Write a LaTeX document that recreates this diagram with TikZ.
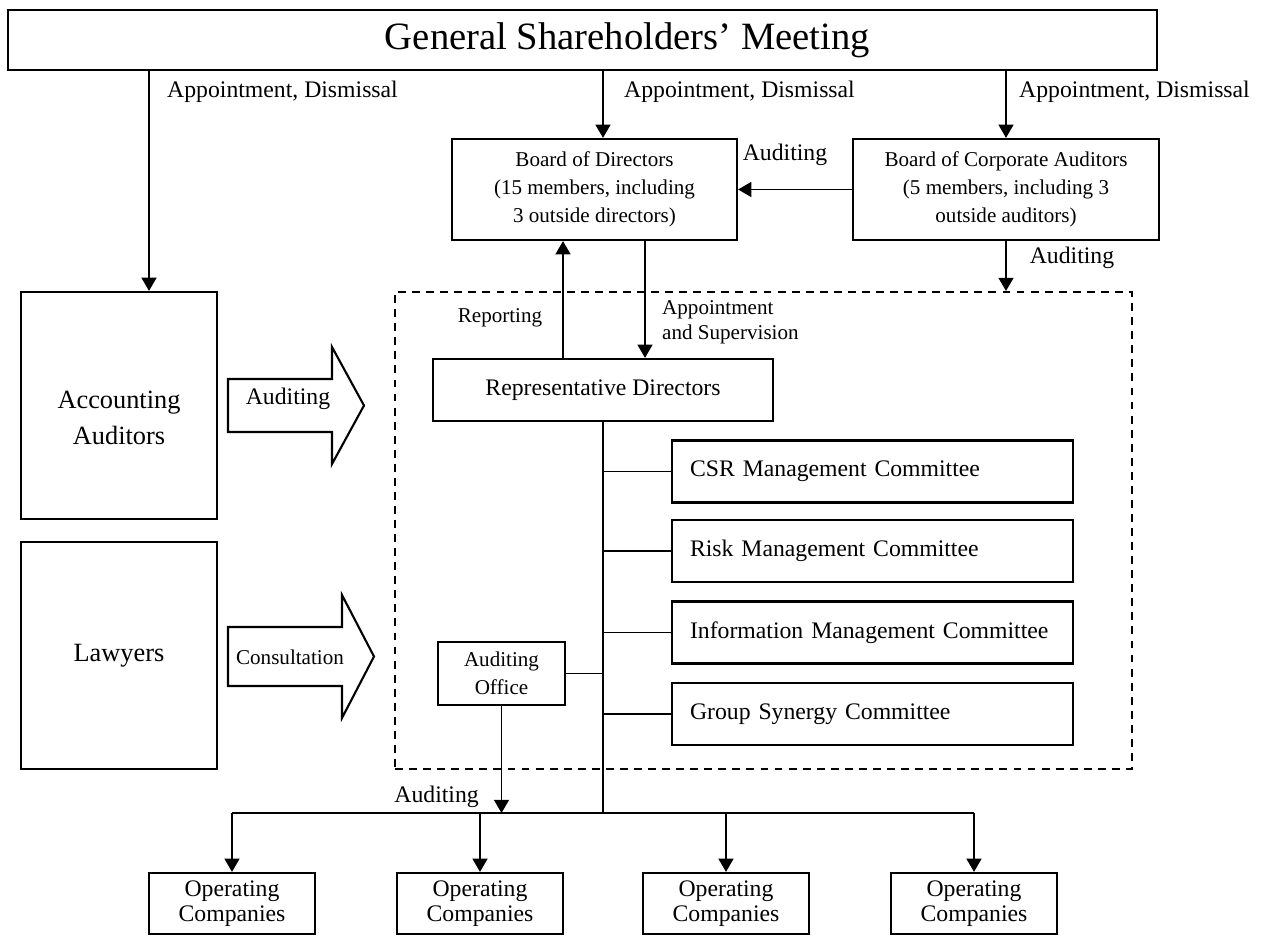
\documentclass[tikz,border=0pt]{standalone}
\usepackage{fontspec}
\setmainfont{Liberation Serif}
\usetikzlibrary{arrows.meta,positioning,calc}
\tikzset{
  every node/.style={font=\fontsize{13.5}{16}\selectfont},
  box/.style={draw, line width=1.3pt, align=center, inner sep=0pt},
  big/.style={font=\fontsize{22}{26}\selectfont},
  mid/.style={font=\fontsize{15}{20.5}\selectfont, align=center},
  sml/.style={font=\fontsize{12}{16}\selectfont},
  cmt/.style={box, minimum height=1.24cm, text width=7.3cm, align=left, inner xsep=0.36cm},
  opc/.style={box, minimum width=3.32cm, minimum height=1.22cm, font=\fontsize{13.5}{14.2}\selectfont},
  ar/.style={-{Triangle[length=7.5pt,width=8.5pt]}, line width=0.9pt},
  ln/.style={line width=0.9pt},
  fat/.style={line width=1.2pt, line join=miter},
  grp/.style={draw, line width=1.2pt, dash pattern=on 4.5pt off 3.5pt},
}

\begin{document}
\begin{tikzpicture}[x=0.02cm, y=-0.02cm]
\useasboundingbox (0,0) rectangle (1267,936);

% ============ boxes =========================================================
\node[grp, minimum width=14.74cm, minimum height=9.54cm] (mgmt) at (763.5,530.5) {};
\node[box, minimum width=22.98cm, minimum height=1.2cm,
      label={[big, xshift=0.9cm]center:General Shareholders' Meeting}] (gsm) at (582.5,40) {};
\node[box, sml, minimum width=5.7cm, minimum height=2.02cm] (bod) at (594.5,189.5)
  {Board of Directors\\(15 members, including\\3 outside directors)};
\node[box, sml, minimum width=6.12cm, minimum height=2.02cm] (bca) at (1006,189.5)
  {Board of Corporate Auditors\\(5 members, including 3\\outside auditors)};
\node[box, minimum width=3.92cm, minimum height=4.54cm,
      label={[mid, yshift=-0.24cm]center:Accounting\\Auditors}] (acc) at (119,405.5) {};
\node[box, mid, minimum width=3.92cm, minimum height=4.54cm] (law) at (119,655.5) {Lawyers};
\node[box, minimum width=6.8cm, minimum height=1.24cm] (rep) at (603,390) {Representative Directors};
\node[box, sml, minimum width=2.54cm, minimum height=1.26cm] (aoff) at (501.5,673.5) {Auditing\\Office};

% committees on the trunk
\foreach \n/\y/\t in {csr/471.5/CSR Management, risk/551/Risk Management,
                      info/632.5/Information Management, syn/714/Group Synergy}{
  \node[cmt] (\n) at (872.5,\y) {\t{} Committee};
  \draw[ln] (\n.west) -- (\n.west -| rep.south);
}

% ============ top arrows ====================================================
\coordinate (accin) at ($(acc.north)+(30,0)$);
\draw[ar] (gsm.south -| accin) -- (accin);
\draw[ar] (gsm.south -| rep.north) -- (bod.north -| rep.north);
\draw[ar] (gsm.south -| bca.north) -- (bca.north);
\node[anchor=west] (ad1) at (161,92) {Appointment, Dismissal};
\node[anchor=west] (ad2) at (618,92) {Appointment, Dismissal};
\node[anchor=west] (ad3) at (1013,92) {Appointment, Dismissal};

\draw[ar] (bca.west) -- (bod.east);
\node (aud1) at (785,155) {Auditing};
\draw[ar] (bca.south) -- (bca.south |- mgmt.north);
\node (aud2) at (1072,258) {Auditing};

\draw[ar] ([xshift=-0.8cm]rep.north) -- ([xshift=-0.8cm]rep.north |- bod.south);
\draw[ar] ([xshift=0.84cm]rep.north |- bod.south) -- ([xshift=0.84cm]rep.north);
\node[sml] (rptl) at (500,318) {Reporting};
\node[anchor=west, align=left, font=\fontsize{12}{14.2}\selectfont] (apsl) at (656,322.5)
  {Appointment\\and Supervision};

% ============ block arrows ==================================================
\draw[fat] (228,379) -- (332,379) -- (332,347) -- (364,405.5) -- (332,464) -- (332,432) -- (228,432) -- cycle;
\node (bal1) at (288,399) {Auditing};
\draw[fat] (228,627) -- (342,627) -- (342,595) -- (374,656.5) -- (342,718) -- (342,686) -- (228,686) -- cycle;
\node[sml] (bal2) at (290,657) {Consultation};

% ============ bottom: operating companies ===================================
\coordinate (bus) at (603,813);
\draw[ln] (rep.south) -- (bus);
\draw[ln] (aoff.east) -- (aoff.east -| rep.south);
\foreach \i/\x in {1/232,2/480,3/726,4/974}{
  \node[opc] (op\i) at (\x,903.5) {Operating\\Companies};
  \draw[ar] (op\i.north |- bus) -- (op\i.north);
}
\draw[ln] (op1.north |- bus) -- (op4.north |- bus);
\draw[ar] (aoff.south) -- (aoff.south |- bus);
\node[anchor=east] (aud3) at (485,797) {Auditing};

\end{tikzpicture}
\end{document}
